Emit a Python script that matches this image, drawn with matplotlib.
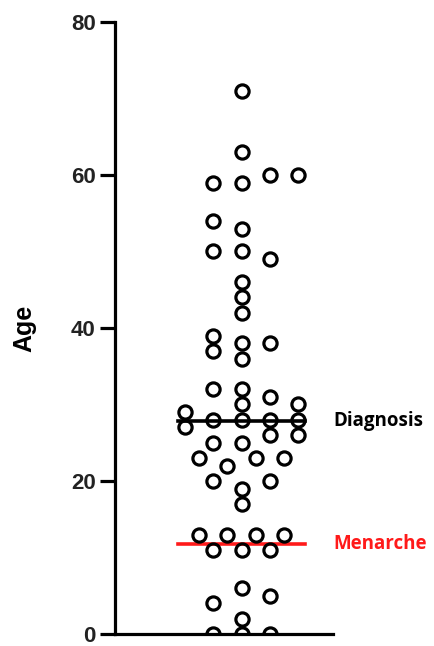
import matplotlib
matplotlib.use('Agg')
import matplotlib.pyplot as plt

# ---- datos ----
edades = [71, 63, 59, 59, 60, 60, 54, 53, 50, 50, 49, 46, 44, 42,
          39, 37, 38, 36, 38, 32, 32, 30, 31, 30, 29,
          28, 28, 28, 28, 27, 26, 26, 25, 25,
          23, 23, 23, 22, 20, 20, 19, 17,
          13, 13, 13, 13, 11, 11, 11, 6, 4, 5, 2, 0, 0, 0]
# desplazamiento horizontal de cada punto (columna del enjambre)
columna = [0, 0, -1, 0, 1, 2, -1, 0, -1, 0, 1, 0, 0, 0,
           -1, -1, 0, 0, 1, -1, 0, 0, 1, 2, -2,
           -1, 0, 1, 2, -2, 1, 2, -1, 0,
           -1.5, 0.5, 1.5, -0.5, -1, 1, 0, 0,
           -1.5, -0.5, 0.5, 1.5, -1, 0, 1, 0, -1, 1, 0, -1, 0, 1]

lineas = ['Diagnosis', 'Menarche']
valores_lineas = [27.8, 11.8]
colores_lineas = ['black', '#ff1a1a']
yticks = [0, 20, 40, 60, 80]

# ---- figura ----
fig = plt.figure(figsize=(4.34, 6.46), dpi=100)
ax = fig.add_axes([0.265, 0.0186, 0.502, 0.9474])

ax.plot(columna, edades, 'o', ms=9.5, mfc='none', mec='black', mew=2.3,
        linestyle='none', zorder=3)

for nombre, v, c in zip(lineas, valores_lineas, colores_lineas):
    ax.plot([-2.25, 2.25], [v, v], color=c, lw=2.6, zorder=2)
    ax.text(3.25, v, nombre, color=c, fontsize=13.5, fontweight='bold',
            family='Open Sans', va='center', ha='left')

ax.set_xlim(-4.48, 3.23)
ax.set_ylim(0, 80)
ax.set_yticks(yticks)
ax.set_xticks([])
for s in ['top', 'right']:
    ax.spines[s].set_visible(False)
for s in ['left', 'bottom']:
    ax.spines[s].set_linewidth(2.3)
ax.tick_params(axis='y', length=11, width=2.3, pad=3, labelsize=16)
for t in ax.get_yticklabels():
    t.set_fontweight('bold')
    t.set_family('Liberation Sans')
    t.set_color('#222222')

ax.set_ylabel('Age', fontsize=18, fontweight='bold', family='Liberation Sans')
ax.yaxis.set_label_coords(-0.36, 0.5)

fig.savefig('out.png', dpi=100)
